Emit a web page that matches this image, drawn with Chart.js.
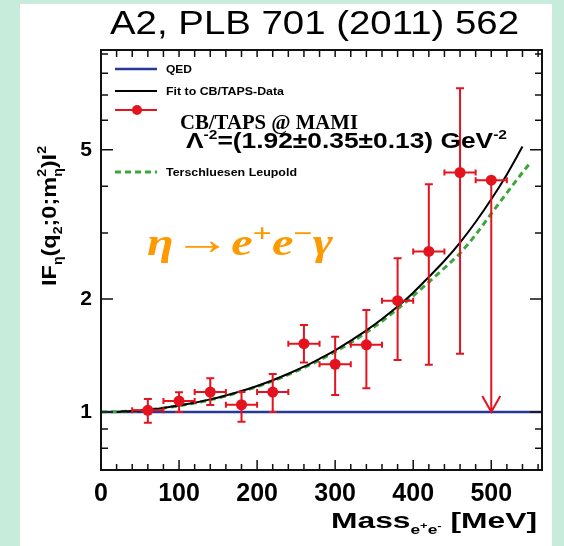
<!DOCTYPE html>
<html><head><meta charset="utf-8">
<script src="https://cdn.jsdelivr.net/npm/chart.js@4/dist/chart.umd.min.js"></script>
<style>html,body{margin:0;padding:0;background:#c8ecdc;}canvas{display:block;}</style>
</head><body>
<canvas id="c" width="564" height="546"></canvas>
<script>
// ---- data ----
const massBins   = [60, 100, 140, 180, 220, 260, 300, 340, 380, 420, 460, 500];
const formFactor = [1.01, 1.07, 1.13, 1.045, 1.13, 1.52, 1.34, 1.51, 1.98, 2.68, 4.35, 4.15];
const errUpper   = [1.083, 1.128, 1.23, 1.13, 1.263, 1.706, 1.587, 1.87, 2.57, 4.05, 7.3, null];
const errLower   = [0.935, 1.0, 1.044, 0.942, 1.0, 1.354, 1.11, 1.157, 1.376, 1.335, 1.43, 1.0];
const isUpperLimit = [false, false, false, false, false, false, false, false, false, false, false, true];
const binHalfWidth = 20;

const qedMass   = [0, 565];
const qedValues = [1, 1];

const fitMass   = [20, 40, 60, 80, 100, 120, 140, 160, 180, 200, 220, 240, 260, 280, 300, 320, 340, 360, 380, 400, 420, 440, 460, 480, 500, 520, 540];
const fitValues = [1.0, 1.006, 1.014, 1.025, 1.04, 1.058, 1.08, 1.106, 1.137, 1.173, 1.215, 1.264, 1.32, 1.386, 1.46, 1.55, 1.65, 1.77, 1.91, 2.08, 2.29, 2.53, 2.83, 3.21, 3.69, 4.3, 5.1];

const tlMass   = [0, 40, 80, 120, 160, 200, 240, 280, 320, 360, 400, 420, 440, 460, 480, 500, 520, 540, 550];
const tlValues = [1.0, 1.005, 1.024, 1.056, 1.103, 1.168, 1.257, 1.375, 1.53, 1.745, 2.04, 2.22, 2.42, 2.65, 2.97, 3.38, 3.84, 4.35, 4.62];

const xTickValues = [0, 100, 200, 300, 400, 500];
const yTickValues = [1, 2, 5];
const yMinorValues = [0.7, 0.8, 0.9, 1, 2, 3, 4, 5, 6, 7, 8, 9];

const legendLabels = ['QED', 'Fit to CB/TAPS-Data', '', 'Terschluesen Leupold'];
const titleText = 'A2, PLB 701 (2011) 562';

const RED = '#e3141f', BLUE = '#27389a', GREEN = '#3aa83a', ORANGE = '#ff9900';
const SANS = '"Liberation Sans", Arial, sans-serif';
const SERIF = '"Liberation Serif", "Times New Roman", serif';

function toXY(xs, ys) { return xs.map((x, i) => ({x: x, y: ys[i]})); }

// draw a run of text parts, horizontally scaled to targetW
function drawParts(ctx, parts, x, y, targetW, color) {
  let total = 0;
  parts.forEach(p => { ctx.font = p.font; p._w = (p.w !== undefined) ? p.w : ctx.measureText(p.t).width; if (!p.noAdvance) total += p._w; });
  const sx = targetW ? targetW / total : 1;
  ctx.save();
  ctx.translate(x, y);
  ctx.scale(sx, 1);
  ctx.fillStyle = color || '#000';
  ctx.textBaseline = 'alphabetic';
  ctx.textAlign = 'left';
  let cx = 0;
  parts.forEach(p => {
    ctx.font = p.font;
    ctx.fillText(p.t, cx, p.dy || 0);
    if (!p.noAdvance) cx += p._w;
  });
  ctx.restore();
}

const bgPlugin = {
  id: 'bg',
  beforeDraw(chart) {
    const ctx = chart.ctx;
    ctx.save();
    ctx.fillStyle = '#c8ecdc';
    ctx.fillRect(0, 0, chart.width, chart.height);
    ctx.fillStyle = '#ffffff';
    ctx.fillRect(20, 4, 532, 542);
    ctx.restore();
  }
};

const errorBarPlugin = {
  id: 'errbars',
  afterDatasetsDraw(chart) {
    const ctx = chart.ctx, xs = chart.scales.x, ys = chart.scales.y;
    ctx.save();
    ctx.strokeStyle = RED;
    ctx.lineWidth = 2;
    massBins.forEach((m, i) => {
      const px = xs.getPixelForValue(m), py = ys.getPixelForValue(formFactor[i]);
      const xl = xs.getPixelForValue(m - binHalfWidth), xr = xs.getPixelForValue(m + binHalfWidth);
      ctx.beginPath();
      ctx.moveTo(xl, py); ctx.lineTo(xr, py);
      ctx.moveTo(xl, py - 3); ctx.lineTo(xl, py + 3);
      ctx.moveTo(xr, py - 3); ctx.lineTo(xr, py + 3);
      ctx.stroke();
      if (isUpperLimit[i]) {
        const yb = ys.getPixelForValue(errLower[i]);
        ctx.beginPath();
        ctx.moveTo(px, py); ctx.lineTo(px, yb);
        ctx.moveTo(px - 9, yb - 16); ctx.lineTo(px, yb); ctx.lineTo(px + 9, yb - 16);
        ctx.stroke();
      } else {
        const yt = ys.getPixelForValue(errUpper[i]), yb = ys.getPixelForValue(errLower[i]);
        ctx.beginPath();
        ctx.moveTo(px, yt); ctx.lineTo(px, yb);
        ctx.moveTo(px - 4, yt); ctx.lineTo(px + 4, yt);
        ctx.moveTo(px - 4, yb); ctx.lineTo(px + 4, yb);
        ctx.stroke();
      }
    });
    ctx.restore();
  }
};

const decorPlugin = {
  id: 'decor',
  afterDraw(chart) {
    const ctx = chart.ctx, xs = chart.scales.x, ys = chart.scales.y, a = chart.chartArea;
    ctx.save();
    // frame
    ctx.strokeStyle = '#111';
    ctx.lineWidth = 2;
    ctx.strokeRect(a.left, a.top, a.right - a.left, a.bottom - a.top);
    // x ticks (inward, bottom and top)
    ctx.lineWidth = 1.5;
    ctx.beginPath();
    for (let v = 0; v <= xs.max; v += 20) {
      const px = xs.getPixelForValue(v);
      const major = (v % 100 === 0);
      ctx.moveTo(px, a.bottom); ctx.lineTo(px, a.bottom - (major ? 10 : 6));
      ctx.moveTo(px, a.top); ctx.lineTo(px, a.top + 7);
    }
    // y ticks (inward, left and right)
    yMinorValues.forEach(v => {
      const py = ys.getPixelForValue(v);
      const major = yTickValues.includes(v);
      const len = major ? 12 : 7;
      ctx.moveTo(a.left, py); ctx.lineTo(a.left + len, py);
      ctx.moveTo(a.right, py); ctx.lineTo(a.right - len, py);
    });
    ctx.stroke();

    // legend
    const lx0 = 115, lx1 = 157, tx = 166;
    ctx.lineWidth = 2.5;
    ctx.strokeStyle = BLUE;
    ctx.beginPath(); ctx.moveTo(lx0, 69); ctx.lineTo(lx1, 69); ctx.stroke();
    ctx.strokeStyle = '#000';
    ctx.lineWidth = 2;
    ctx.beginPath(); ctx.moveTo(lx0, 91); ctx.lineTo(lx1, 91); ctx.stroke();
    ctx.strokeStyle = RED;
    ctx.beginPath(); ctx.moveTo(lx0, 110); ctx.lineTo(lx1, 110); ctx.stroke();
    ctx.fillStyle = RED;
    ctx.beginPath(); ctx.arc(137, 110, 5, 0, Math.PI * 2); ctx.fill();
    ctx.strokeStyle = GREEN;
    ctx.lineWidth = 3;
    ctx.setLineDash([6, 4]);
    ctx.beginPath(); ctx.moveTo(lx0, 172); ctx.lineTo(lx1, 172); ctx.stroke();
    ctx.setLineDash([]);
    const lf = 'bold 11px ' + SANS;
    drawParts(ctx, [{t: legendLabels[0], font: lf}], tx, 73, 26);
    drawParts(ctx, [{t: legendLabels[1], font: lf}], tx, 95, 118);
    drawParts(ctx, [{t: legendLabels[3], font: lf}], tx, 176, 131);

    // annotation
    drawParts(ctx, [{t: 'CB/TAPS @ MAMI', font: 'bold 22px ' + SERIF}], 180, 129, 178);
    const af = 'bold 22px ' + SANS, sf = 'bold 13px ' + SANS;
    drawParts(ctx, [
      {t: 'Λ', font: af}, {t: '-2', font: sf, dy: -9},
      {t: '=(1.92±0.35±0.13) GeV', font: af}, {t: '-2', font: sf, dy: -9}
    ], 186, 148, 321);

    // orange reaction
    const of = 'italic bold 37px ' + SERIF, osf = 'bold 26px ' + SERIF;
    drawParts(ctx, [
      {t: 'η', font: of}, {t: '→', font: '44px ' + SERIF, dy: -1}, {t: 'e', font: of},
      {t: '+', font: osf, dy: -13}, {t: 'e', font: of}, {t: '−', font: osf, dy: -13},
      {t: 'γ', font: of}
    ], 147, 255, 186, ORANGE);

    // title
    drawParts(ctx, [{t: titleText, font: '34px ' + SANS}], 110, 34, 409);

    // x-axis title
    const xf = 'bold 22px ' + SANS, xsf = 'bold 12px ' + SANS;
    drawParts(ctx, [
      {t: 'Mass', font: xf}, {t: 'e', font: xsf, dy: 6}, {t: '+', font: 'bold 9px ' + SANS, dy: 1},
      {t: 'e', font: xsf, dy: 6}, {t: '-', font: 'bold 9px ' + SANS, dy: 1}, {t: ' [MeV]', font: xf}
    ], 331, 528, 206);

    // y-axis title (rotated)
    ctx.save();
    ctx.translate(56, 286);
    ctx.rotate(-Math.PI / 2);
    const yf = 'bold 20px ' + SANS, ysf = 'bold 12px ' + SANS;
    drawParts(ctx, [
      {t: 'IF', font: yf}, {t: 'η', font: ysf, dy: 6},
      {t: '(q', font: yf}, {t: '2', font: ysf, dy: 6},
      {t: ';0;m', font: yf}, {t: '2', font: ysf, dy: -10, noAdvance: true}, {t: 'η', font: ysf, dy: 6},
      {t: ')I', font: yf}, {t: '2', font: ysf, dy: -10}
    ], 0, 0, 140);
    ctx.restore();

    ctx.restore();
  }
};

new Chart(document.getElementById('c'), {
  type: 'scatter',
  data: {
    datasets: [
      {label: 'CB/TAPS', data: toXY(massBins, formFactor), showLine: false, pointRadius: 5.5,
       backgroundColor: RED, borderWidth: 0, order: 0},
      {label: 'Fit', data: toXY(fitMass, fitValues), showLine: true, borderColor: '#000', borderWidth: 2,
       pointRadius: 0, cubicInterpolationMode: 'monotone', order: 1},
      {label: 'TL', data: toXY(tlMass, tlValues), showLine: true, borderColor: GREEN, borderWidth: 3,
       borderDash: [6, 4], pointRadius: 0, cubicInterpolationMode: 'monotone', order: 2},
      {label: 'QED', data: toXY(qedMass, qedValues), showLine: true, borderColor: BLUE, borderWidth: 2.5,
       pointRadius: 0, order: 3}
    ]
  },
  options: {
    responsive: false, animation: false, devicePixelRatio: 1,
    layout: {padding: {top: 50, right: 22, left: 0, bottom: 0}},
    plugins: {legend: {display: false}, tooltip: {enabled: false}, title: {display: false}},
    scales: {
      x: {
        type: 'linear', min: 0, max: 565,
        afterBuildTicks: s => { s.ticks = xTickValues.map(v => ({value: v})); },
        afterFit: s => { s.height = 76; },
        grid: {display: false, drawTicks: false}, border: {display: false},
        ticks: {font: {family: SANS, weight: 'bold', size: 25}, color: '#000', padding: 9,
                maxRotation: 0, autoSkip: false, callback: v => String(v)}
      },
      y: {
        type: 'logarithmic', min: 0.7, max: 9.23,
        afterBuildTicks: s => { s.ticks = yTickValues.map(v => ({value: v})); },
        afterFit: s => { s.width = 101; },
        grid: {display: false, drawTicks: false}, border: {display: false},
        ticks: {font: {family: SANS, weight: 'bold', size: 21}, color: '#000', padding: 9,
                autoSkip: false, callback: v => String(v)}
      }
    }
  },
  plugins: [bgPlugin, errorBarPlugin, decorPlugin]
});
</script>
</body></html>
